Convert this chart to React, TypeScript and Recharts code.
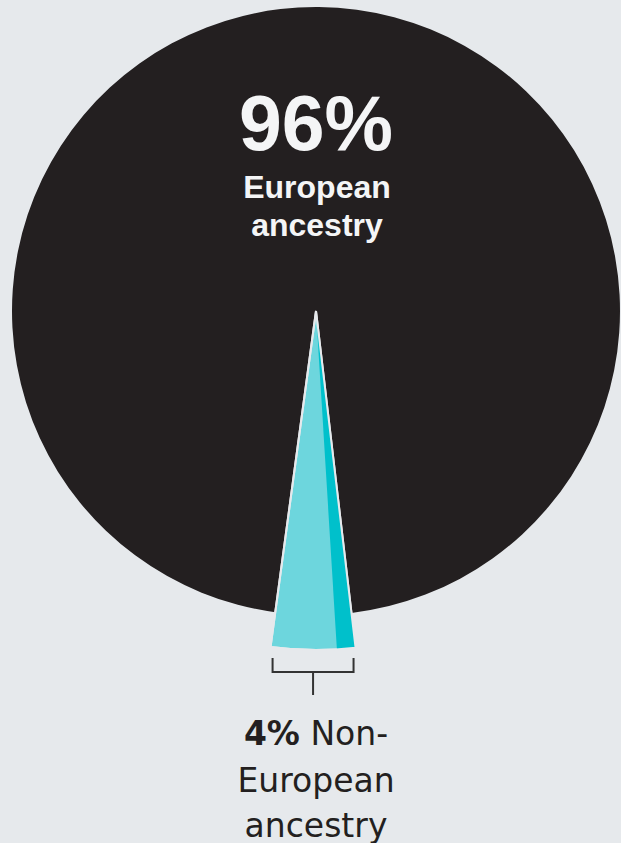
import { PieChart, Pie, Cell, Sector } from "recharts";

// Ancestry split
const segments = ["European ancestry", "Non-European ancestry"];
const shares = [96, 4];
const bigLabel = "96%";
const topLines = ["European", "ancestry"];
const bottomBold = "4%";
const bottomLines = [" Non-", "European", "ancestry"];

const data = segments.map((name, i) => ({ name, value: shares[i] }));

const BG = "#e6e9ec";
const INK = "#231f20";
const CYAN = "#6dd6dd";
const CYAN_DARK = "#00c0cb";
const RAD = Math.PI / 180;

// white headline inside the big slice
const renderTop = (props: any) => {
  if (props.index !== 0) return null;
  const { cx, cy } = props;
  return (
    <g>
      <text
        x={cx}
        y={cy - 161}
        textAnchor="middle"
        fill="#f4f5f6"
        fontFamily="'Liberation Sans Narrow', 'Liberation Sans', sans-serif"
        fontWeight="bold"
        fontSize={77}
      >
        {bigLabel}
      </text>
      {topLines.map((t, i) => (
        <text
          key={t}
          x={cx + 1}
          y={cy - 113 + i * 38}
          textAnchor="middle"
          fill="#f4f5f6"
          fontFamily="'Liberation Sans', sans-serif"
          fontWeight="bold"
          fontSize={32}
        >
          {t}
        </text>
      ))}
    </g>
  );
};

// darker edge on the wedge, bracket and caption underneath
const renderWedge = (props: any) => {
  if (props.index !== 1) return null;
  const { cx, cy, outerRadius, startAngle, endAngle } = props;
  const span = endAngle - startAngle;
  const xa = cx + outerRadius * Math.cos(-startAngle * RAD);
  const xb = cx + outerRadius * Math.cos(-endAngle * RAD);
  const left = Math.min(xa, xb) + 2;
  const right = Math.max(xa, xb) - 2;
  const mid = (left + right) / 2;
  const baseY = cy + outerRadius;
  return (
    <g>
      <Sector
        cx={cx}
        cy={cy}
        innerRadius={0}
        outerRadius={outerRadius}
        startAngle={endAngle - span * 0.22}
        endAngle={endAngle}
        fill={CYAN_DARK}
        stroke="none"
      />
      <Sector
        cx={cx}
        cy={cy}
        innerRadius={0}
        outerRadius={outerRadius}
        startAngle={startAngle}
        endAngle={endAngle}
        fill="none"
        stroke={BG}
        strokeWidth={2}
      />
      <path
        d={`M${left},${baseY + 8} V${baseY + 22} H${right} V${baseY + 8} M${mid},${baseY + 22} V${baseY + 45}`}
        fill="none"
        stroke="#333"
        strokeWidth={2}
      />
      <g fontFamily="'DejaVu Sans', sans-serif" fontSize={33} fill={INK} textAnchor="middle">
        <text x={cx} y={baseY + 95}>
          <tspan fontWeight="bold">{bottomBold}</tspan>
          <tspan>{bottomLines[0]}</tspan>
        </text>
        <text x={cx} y={baseY + 142}>{bottomLines[1]}</text>
        <text x={cx} y={baseY + 187}>{bottomLines[2]}</text>
      </g>
    </g>
  );
};

export default function App() {
  return (
    <div style={{ width: 621, height: 843, background: BG, overflow: "hidden" }}>
      <style>{`body{margin:0}`}</style>
      <PieChart width={621} height={843} margin={{ top: 0, right: 0, bottom: 0, left: 0 }}>
        <Pie
          data={data}
          dataKey="value"
          nameKey="name"
          cx={316}
          cy={311}
          outerRadius={304}
          startAngle={-83.3}
          endAngle={276.7}
          stroke="none"
          label={renderTop}
          labelLine={false}
          isAnimationActive={false}
        >
          <Cell fill={INK} />
          <Cell fill="none" />
        </Pie>
        <Pie
          data={data}
          dataKey="value"
          nameKey="name"
          cx={316}
          cy={311}
          outerRadius={339}
          startAngle={-83.3}
          endAngle={276.7}
          label={renderWedge}
          labelLine={false}
          isAnimationActive={false}
        >
          <Cell fill="none" stroke="none" />
          <Cell fill={CYAN} stroke={BG} strokeWidth={2} />
        </Pie>
      </PieChart>
    </div>
  );
}
